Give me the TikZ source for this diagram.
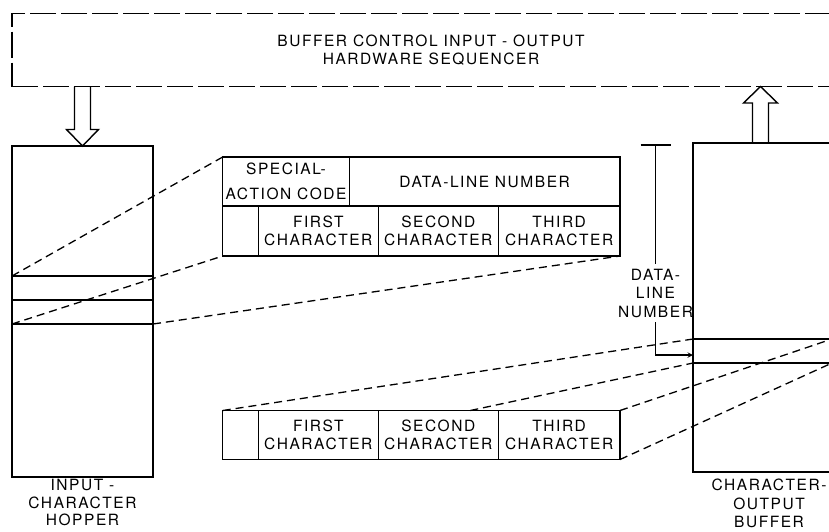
\documentclass[tikz,border=0pt]{standalone}
\usepackage{fontspec}
\newfontfamily\lettering[LetterSpace=10]{TeX Gyre Heros}
\usetikzlibrary{positioning}

\begin{document}
\begin{tikzpicture}[x=1pt, y=-1pt,
    every node/.style={font=\lettering\fontsize{15.5}{18.5}\selectfont, align=center},
    box/.style={draw, line width=1.4pt, inner sep=0pt, outer sep=0pt},
    cell/.style={box, minimum height=49pt},
    zoomline/.style={line width=1.3pt, dash pattern=on 8pt off 5pt},
    hollow/.style={line width=1.4pt, line join=miter}]
        \useasboundingbox (0,0) rectangle (829,531);
        \clip (0,0) rectangle (829,531);

        % sequencer
        \node[box, dash pattern=on 26pt off 5pt, minimum width=838pt, minimum height=73pt] (seq) at (431,50)
            {BUFFER CONTROL INPUT - OUTPUT\\HARDWARE SEQUENCER};

        % hopper
        \node[box, minimum width=141pt, minimum height=331pt] (hopper) at (82.5,311.5) {};
        \foreach \y/\n in {276/hopA, 300/hopB, 324/hopC} {
            \coordinate (\n l) at (hopper.west |- 0,\y);
            \coordinate (\n r) at (hopper.east |- 0,\y);
            \draw[line width=1.4pt] (\n l) -- (\n r);
        }
        \node[below=0pt of hopper, inner sep=2pt, font=\lettering\fontsize{15.5}{17.5}\selectfont] (hopname)
            {INPUT -\\CHARACTER\\HOPPER};

        % record from the hopper
        \node[cell, minimum width=126.6pt, anchor=north west] (spec) at (222.7,157) {SPECIAL-\\[6pt]ACTION CODE};
        \node[cell, minimum width=270.7pt, right=0pt of spec] (num) {DATA-LINE NUMBER};
        \node[cell, minimum width=35.6pt, minimum height=50pt, anchor=north west] (blank) at (spec.south west) {};
        \node[cell, minimum width=120pt, minimum height=50pt, right=0pt of blank] (first) {FIRST\\CHARACTER};
        \node[cell, minimum width=120pt, minimum height=50pt, right=0pt of first] (second) {SECOND\\CHARACTER};
        \node[cell, minimum width=121.7pt, minimum height=50pt, right=0pt of second] (third) {THIRD\\CHARACTER};

        % record into the buffer
        \node[cell, minimum width=35.6pt, anchor=north west] (lblank) at (222.7,410.5) {};
        \node[cell, minimum width=120pt, right=0pt of lblank] (lfirst) {FIRST\\CHARACTER};
        \node[cell, minimum width=120pt, right=0pt of lfirst] (lsecond) {SECOND\\CHARACTER};
        \node[cell, minimum width=121.7pt, right=0pt of lsecond] (lthird) {THIRD\\CHARACTER};

        % buffer
        \node[box, minimum width=139pt, minimum height=329pt, anchor=north west] (buf) at (693,143) {};
        \foreach \y/\n in {339/bufA, 363/bufB} {
            \coordinate (\n l) at (buf.west |- 0,\y);
            \coordinate (\n r) at (buf.east |- 0,\y);
            \draw[line width=1.4pt] (\n l) -- (\n r);
        }
        \node (bufname) at (769,503.4) {CHARACTER-\\OUTPUT\\BUFFER};

        % hollow arrows
        \coordinate (inTop) at (hopper.north |- seq.south);
        \draw[hollow] ([xshift=-8pt]inTop) -- ++(0,43) -- ++(-8,0) -- (hopper.north)
            -- ++(16,-16.5) -- ++(-8,0) -- ([xshift=8pt]inTop);
        \coordinate (outBot) at ([xshift=67.5pt]buf.north west);
        \coordinate (outTop) at (outBot |- seq.south);
        \draw[hollow] ([xshift=-8pt]outBot) -- ++(0,-40) -- ++(-9,0) -- (outTop)
            -- ++(17,16.5) -- ++(-9,0) -- ([xshift=8pt]outBot);

        % dashed lines
        \draw[zoomline] (hopAl) -- (spec.north west);
        \draw[zoomline] (hopCl) -- (blank.south west);
        \draw[zoomline] (hopCr) -- (third.south east);
        \draw[zoomline] (lblank.north west) -- (bufAl);
        \draw[zoomline] ([xshift=32pt]lsecond.north) -- (bufBl);
        \draw[zoomline] (lthird.north east) -- (bufAr);
        \draw[zoomline] (lthird.south east) -- (bufBr);

        % data-line number
        \node[inner sep=5pt] (dlnum) at (655.5,293) {DATA-\\LINE\\NUMBER};
        \coordinate (dlTop) at (dlnum.north |- 0,145);
        \draw[line width=1.4pt] ([xshift=-15pt]dlTop) -- ([xshift=15pt]dlTop);
        \draw[line width=1.4pt] (dlTop) -- (dlnum.north);
        \draw[line width=1.4pt, -stealth] (dlnum.south) |- (buf.west |- 0,355);
    \end{tikzpicture}
\end{document}
